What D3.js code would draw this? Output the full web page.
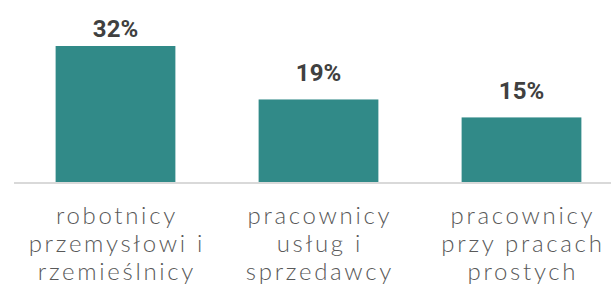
<!DOCTYPE html>
<html>
<head>
<meta charset="utf-8">
<script src="https://cdn.jsdelivr.net/npm/d3@7"></script>
<style>
  body { margin: 0; background: #fff; }
  svg { display: block; }
</style>
</head>
<body>
<svg id="chart"></svg>
<script>
var categories = [
    ["robotnicy", "przemysłowi i", "rzemieślnicy"],
    ["pracownicy", "usług i", "sprzedawcy"],
    ["pracownicy", "przy pracach", "prostych"]
]
var values = [31.8, 19.3, 15.1]
var valueLabels = ["32%", "19%", "15%"]

var dimensions = {
    width: 611,
    height: 293,
    margin: { top: 46, bottom: 111, left: 14, right: -12 }
}

var svg = d3.select("#chart")
            .attr("width", dimensions.width)
            .attr("height", dimensions.height)

var baseline = dimensions.height - dimensions.margin.bottom

var xScale = d3.scaleBand()
            .domain(d3.range(values.length))
            .range([dimensions.margin.left, dimensions.width - dimensions.margin.right])
            .paddingInner(0.41)
            .paddingOuter(0.205)

var yScale = d3.scaleLinear()
            .domain([0, d3.max(values)])
            .range([baseline, dimensions.margin.top])

svg.append("g")
   .selectAll("rect")
   .data(values)
   .enter()
   .append("rect")
   .attr("x", (d, i) => xScale(i))
   .attr("y", d => yScale(d))
   .attr("width", xScale.bandwidth())
   .attr("height", d => baseline - yScale(d))
   .attr("fill", "#318a88")

// baseline axis line
svg.append("line")
   .attr("x1", dimensions.margin.left)
   .attr("x2", dimensions.width)
   .attr("y1", baseline + 1)
   .attr("y2", baseline + 1)
   .attr("stroke", "#d9d9d9")
   .attr("stroke-width", 2)

// value labels
svg.append("g")
   .selectAll("text")
   .data(values)
   .enter()
   .append("text")
   .attr("x", (d, i) => xScale(i) + xScale.bandwidth() / 2)
   .attr("y", d => Math.max(37, yScale(d) - 18))
   .attr("text-anchor", "middle")
   .style("font-family", "Roboto, sans-serif")
   .style("font-weight", "700")
   .style("font-size", "24px")
   .style("fill", "#404040")
   .text((d, i) => valueLabels[i])

// category labels, one text per line
var catLines = []
categories.forEach((lines, i) => lines.forEach((line, j) => catLines.push({ line: line, i: i, j: j })))

svg.append("g")
   .selectAll("text")
   .data(catLines)
   .enter()
   .append("text")
   .attr("x", d => xScale(d.i) + xScale.bandwidth() / 2 + 1.4)
   .attr("y", d => baseline + 42 + d.j * 28)
   .attr("text-anchor", "middle")
   .style("font-family", "Lato, sans-serif")
   .style("font-weight", "300")
   .style("font-size", "24px")
   .style("letter-spacing", "2.7px")
   .style("fill", "#595959")
   .text(d => d.line)
</script>
</body>
</html>
